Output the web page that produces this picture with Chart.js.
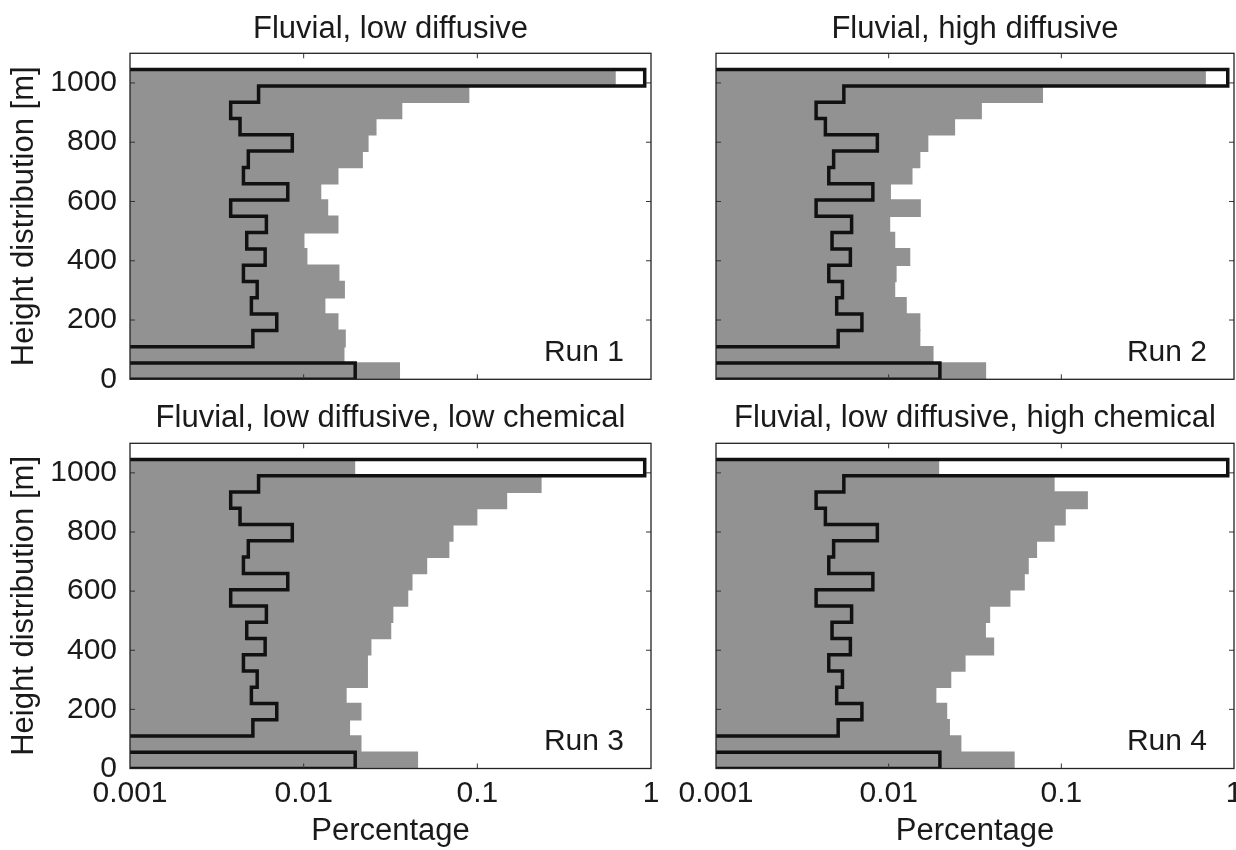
<!DOCTYPE html>
<html>
<head>
<meta charset="utf-8">
<title>Height distribution, runs 1-4</title>
<script src="https://cdn.jsdelivr.net/npm/chart.js@4.4.1/dist/chart.umd.min.js"></script>
<style>
  body { margin: 0; background: #fff; }
  #figure { position: relative; width: 1236px; height: 850px; overflow: hidden; background: #fff; }
  #figure canvas { position: absolute; }
</style>
</head>
<body>
<div id="figure">
  <canvas id="run1" width="680" height="400" style="left:0;top:0"></canvas>
  <canvas id="run2" width="576" height="400" style="left:660px;top:0"></canvas>
  <canvas id="run3" width="680" height="455" style="left:0;top:395px"></canvas>
  <canvas id="run4" width="576" height="455" style="left:660px;top:395px"></canvas>
</div>
<script>
// bin centres of the height histogram [m], from the bottom up
const heights = [27.5, 82.5, 137.5, 192.5, 247.5, 302.5, 357.5, 412.5, 467.5, 522.5,
                 577.5, 632.5, 687.5, 742.5, 797.5, 852.5, 907.5, 962.5, 1017.5];
const binWidth = 55;
const yTicks = [0, 200, 400, 600, 800, 1000];
const xTicks = [0.001, 0.01, 0.1, 1];
const noCount = 0.0005; // empty bin, falls left of the log axis

// initial distribution (black outline, same in every panel); null = empty bin
const initial = [0.0198, null, 0.0051, 0.0070, 0.0050, 0.0054, 0.0045, 0.0060, 0.0047, 0.0061,
                 0.0038, 0.0081, 0.0045, 0.0048, 0.0086, 0.0043, 0.0038, 0.0055, 0.92];

// final distributions (grey bars)
const run1 = [0.0355, 0.0170, 0.0173, 0.0157, 0.0132, 0.0171, 0.0159, 0.0104, 0.0100, 0.0157,
              0.0137, 0.0125, 0.0157, 0.0217, 0.0234, 0.0260, 0.0366, 0.0890, 0.62];
const run2 = [0.0363, 0.0180, 0.0151, 0.0151, 0.0126, 0.0108, 0.0110, 0.0132, 0.0108, 0.0101,
              0.0152, 0.0102, 0.0136, 0.0151, 0.0168, 0.0240, 0.0343, 0.0775, 0.68];
const run3 = [0.0451, 0.0213, 0.0183, 0.0213, 0.0175, 0.0232, 0.0232, 0.0243, 0.0316, 0.0325,
              0.0396, 0.0419, 0.0509, 0.0683, 0.0722, 0.0990, 0.147, 0.232, 0.0196];
const run4 = [0.0531, 0.0261, 0.0224, 0.0216, 0.0187, 0.0228, 0.0276, 0.0404, 0.0362, 0.0383,
              0.0502, 0.0608, 0.0641, 0.0716, 0.0905, 0.105, 0.141, 0.0905, 0.0194];

const panels = [
  { id: 'run1', title: 'Fluvial, low diffusive', values: run1, label: 'Run 1', left: true, bottom: false },
  { id: 'run2', title: 'Fluvial, high diffusive', values: run2, label: 'Run 2', left: false, bottom: false },
  { id: 'run3', title: 'Fluvial, low diffusive, low chemical', values: run3, label: 'Run 3', left: true, bottom: true },
  { id: 'run4', title: 'Fluvial, low diffusive, high chemical', values: run4, label: 'Run 4', left: false, bottom: true }
];

const fontFamily = '"Liberation Sans", Arial, Helvetica, sans-serif';
const textColor = '#1a1a1a';
Chart.defaults.font.family = fontFamily;
Chart.defaults.color = textColor;

// stair outline of a histogram (no inner lines between bins)
function outlinePoints(values) {
  const pts = [{ x: noCount, y: heights[0] - binWidth / 2 }];
  values.forEach((v, i) => {
    const x = v === null ? noCount : v;
    pts.push({ x: x, y: heights[i] - binWidth / 2 });
    pts.push({ x: x, y: heights[i] + binWidth / 2 });
  });
  pts.push({ x: noCount, y: heights[heights.length - 1] + binWidth / 2 });
  return pts;
}

// box round the axes, inward ticks and the run label
const panelFrame = {
  id: 'panelFrame',
  afterDatasetsDraw(chart, args, opts) {
    const { ctx, chartArea: a, scales } = chart;
    ctx.save();
    ctx.strokeStyle = '#333';
    ctx.lineWidth = 1;
    ctx.beginPath();
    xTicks.slice(1, -1).forEach(v => {
      const px = scales.x.getPixelForValue(v);
      ctx.moveTo(px, a.bottom); ctx.lineTo(px, a.bottom - 5);
      ctx.moveTo(px, a.top); ctx.lineTo(px, a.top + 5);
    });
    yTicks.slice(1).forEach(v => {
      const py = scales.y.getPixelForValue(v);
      ctx.moveTo(a.left, py); ctx.lineTo(a.left + 5, py);
      ctx.moveTo(a.right, py); ctx.lineTo(a.right - 5, py);
    });
    ctx.stroke();
    ctx.strokeStyle = '#222';
    ctx.lineWidth = 1.3;
    ctx.strokeRect(a.left, a.top, a.right - a.left, a.bottom - a.top);

    ctx.font = '30px ' + fontFamily;
    ctx.fillStyle = textColor;
    ctx.textAlign = 'right';
    ctx.textBaseline = 'middle';
    ctx.fillText(opts.label, a.right - 27, a.bottom - 27);
    ctx.restore();
  }
};

panels.forEach(p => {
  const canvas = document.getElementById(p.id);
  new Chart(canvas, {
    type: 'bar',
    data: {
      datasets: [
        {
          type: 'line',
          indexAxis: 'x',
          data: outlinePoints(initial),
          borderColor: '#111',
          borderWidth: 3.5,
          borderJoinStyle: 'miter',
          pointRadius: 0,
          tension: 0,
          fill: false,
          clip: 0,
          order: 0
        },
        {
          type: 'bar',
          data: heights.map((h, i) => ({ x: p.values[i], y: h })),
          backgroundColor: '#929292',
          borderWidth: 0,
          inflateAmount: 0.8,
          barPercentage: 1,
          categoryPercentage: 1,
          order: 1
        }
      ]
    },
    options: {
      indexAxis: 'y',
      responsive: false,
      animation: false,
      events: [],
      layout: { padding: { left: 0, top: 0, bottom: 0, right: p.left ? 29 : 2 } },
      plugins: {
        legend: { display: false },
        tooltip: { enabled: false },
        title: {
          display: true,
          text: p.title,
          fullSize: false,
          color: textColor,
          font: { size: 31, weight: 'normal' },
          padding: p.bottom ? { top: 4.4, bottom: 6.7 } : { top: 10.9, bottom: 5.2 }
        },
        panelFrame: { label: p.label }
      },
      scales: {
        x: {
          type: 'logarithmic',
          position: 'bottom',
          min: 0.001,
          max: 1,
          grid: { display: false, drawTicks: false },
          border: { display: false },
          afterBuildTicks: s => { s.ticks = xTicks.map(v => ({ value: v })); },
          afterFit: s => {
            s.height = p.bottom ? 81.5 : 20.7;
            s.paddingLeft = 0;
            s.paddingRight = 0;
          },
          ticks: {
            display: p.bottom,
            padding: 7.5,
            maxRotation: 0,
            autoSkip: false,
            font: { size: 30 },
            callback: v => String(v)
          },
          title: {
            display: p.bottom,
            text: 'Percentage',
            font: { size: 31, weight: 'normal' },
            padding: { top: 0, bottom: 0 }
          }
        },
        y: {
          type: 'linear',
          position: 'left',
          min: 0,
          max: 1100,
          offset: false,
          grid: { display: false, drawTicks: false, offset: false },
          border: { display: false },
          afterBuildTicks: s => { s.ticks = yTicks.map(v => ({ value: v })); },
          afterFit: s => {
            s.width = p.left ? 130 : 56;
            s.paddingTop = 0;
            s.paddingBottom = 0;
          },
          ticks: {
            display: p.left,
            padding: 13,
            font: { size: 30 },
            callback: v => String(v)
          },
          title: {
            display: p.left,
            text: 'Height distribution [m]',
            font: { size: 31, weight: 'normal' },
            padding: { top: 6, bottom: 0 }
          }
        }
      }
    },
    plugins: [panelFrame]
  });
});
</script>
</body>
</html>
